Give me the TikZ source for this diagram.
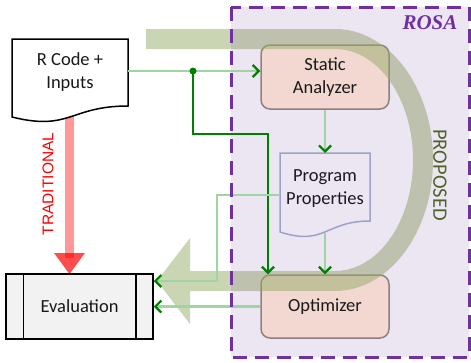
\documentclass[tikz,border=0pt]{standalone}
\usepackage{fontspec}
\setmainfont{Carlito}
\newfontfamily\labelsans{Liberation Sans}
\newfontfamily\titleserif{Liberation Serif}
\usetikzlibrary{arrows.meta}

\definecolor{rosatint}{RGB}{70,10,130}
\definecolor{rosapurple}{RGB}{112,48,160}
\definecolor{boxfill}{RGB}{242,216,208}
\definecolor{boxedge}{RGB}{140,128,128}
\definecolor{docedge}{RGB}{166,180,212}
\definecolor{flowlight}{RGB}{160,212,160}
\definecolor{flowdark}{RGB}{0,128,0}
\definecolor{bandolive}{RGB}{150,172,104}
\definecolor{proposedtext}{RGB}{79,98,40}
\definecolor{evalfill}{RGB}{242,242,242}

\tikzset{
  boxtext/.style={font=\fontsize{18.5}{23}\selectfont, text=black!90, align=center, inner sep=0pt},
  stagebox/.style={boxtext, draw=boxedge, fill=boxfill, line width=1.5pt,
    rounded corners=9pt, minimum width=128pt, minimum height=64pt},
  flow/.style={draw=flowlight, line width=2.2pt,
    -{Straight Barb[length=6pt,width=12pt,line width=2.2pt,color=flowdark]}},
  flowstrong/.style={draw=flowdark, line width=2.2pt,
    -{Straight Barb[length=6pt,width=12pt,line width=2.2pt]}},
}

\begin{document}
\begin{tikzpicture}[x=1pt, y=-1pt]
\useasboundingbox (0,0) rectangle (471,362);

% traditional path: R code straight to evaluation
\fill[red, opacity=0.4] (65,110) rectangle (74,258);
\fill[red, opacity=0.7] (54,253) -- (85,253) -- (69.5,274) -- cycle;

% input document
\filldraw[fill=white, draw=black, line width=1.5pt]
  (12,39) -- (128,39) -- (128,106) .. controls (70,106) and (70,131.5) .. (12,117) -- cycle;
\node[boxtext, minimum width=116pt] (rcode) at (70,72.5) {R Code +\\Inputs};

% evaluation (predefined process)
\node[boxtext, draw=black, fill=evalfill, line width=1.5pt,
      minimum width=147pt, minimum height=65pt] (eval) at (79.5,306.5) {Evaluation};
\draw[line width=1.5pt]
  ([xshift=18pt]eval.north west) -- ([xshift=18pt]eval.south west)
  ([xshift=-18pt]eval.north east) -- ([xshift=-18pt]eval.south east);

% ROSA stages
\node[stagebox] (sa) at (325,77) {Static\\Analyzer};
\node[stagebox, minimum height=63pt] (opt) at (325,306.5) {Optimizer};

% program properties document
\draw[docedge, line width=1.5pt]
  (280,153) -- (370,153) -- (370,221) .. controls (325,221) and (325,246.5) .. (280,232) -- cycle;
\node[boxtext] (pp) at (325,188.5) {Program\\Properties};
\coordinate (ppTop) at (325,153);
\coordinate (ppBot) at (325,232.7);
\coordinate (ppWest) at (280,195);

% proposed path: U-turn band with arrow head
\fill[bandolive, opacity=0.5]
  (146,29) -- (335,29)
  .. controls (389.1,29) and (433,87.6) .. (433,160)
  .. controls (433,232.4) and (389.1,291) .. (335,291)
  -- (190,291) -- (190,324) -- (157,281) -- (190,238) -- (190,271) -- (335,271)
  .. controls (378.1,271) and (413,221.3) .. (413,160)
  .. controls (413,98.7) and (378.1,49) .. (335,49)
  -- (146,49) -- cycle;

% ROSA region tint (leaves the two stage boxes untinted)
\fill[rosatint, opacity=0.1, even odd rule]
  (231,7) rectangle (469,357)
  [rounded corners=9pt] (sa.north west) rectangle (sa.south east)
  (opt.north west) rectangle (opt.south east);

% connectors
\coordinate (split) at (193,71);
\coordinate (turn) at (268,134);
\coordinate (elbow) at (217,281);
\draw[flow] (rcode.east |- split) -- (sa.west |- split);
\draw[flowstrong] (split) |- (turn) -- (turn |- opt.north);
\fill[flowdark] (split) circle[radius=3.5];
\draw[flow] (sa.south) -- (ppTop);
\draw[flow] (ppBot) -- (ppBot |- opt.north);
\draw[flow] (ppWest) -| (elbow) -- (elbow -| eval.east);
\draw[flow] (opt.west) -- (opt.west -| eval.east);

% ROSA frame
\draw[rosapurple, line width=3pt, dash pattern=on 14pt off 8pt] (231,7) rectangle (469,357);

% labels
\node[text=rosapurple, font=\titleserif\bfseries\itshape\fontsize{21}{21}\selectfont] (rosa) at (430,22.5) {ROSA};
\node[text=proposedtext, font=\fontsize{20.5}{20.5}\selectfont, rotate=-90] (proposed) at (440,175) {PROPOSED};
\node[text=red, font=\labelsans\fontsize{15.5}{15.5}\selectfont, rotate=90] (traditional) at (48,184) {TRADITIONAL};
\end{tikzpicture}
\end{document}
